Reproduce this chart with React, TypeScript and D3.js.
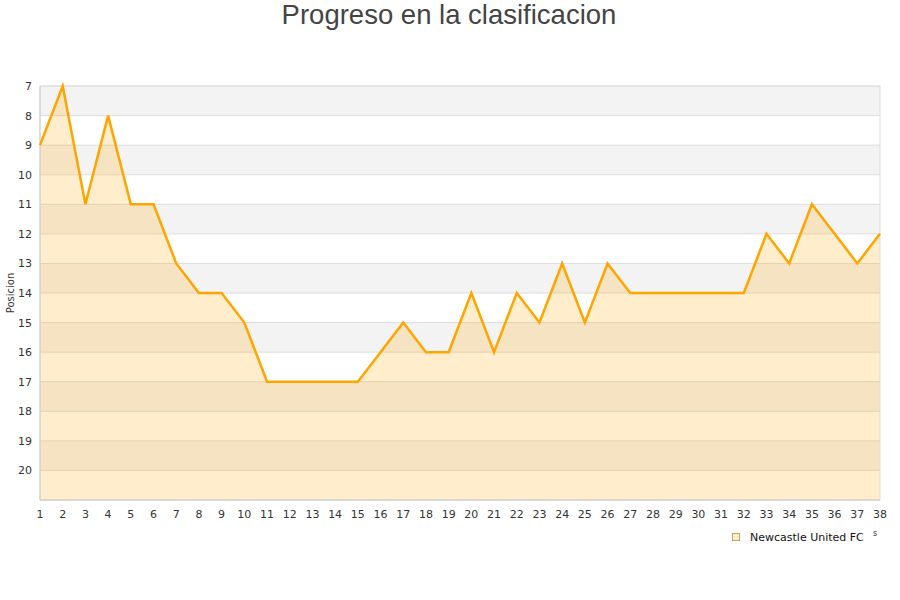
import React from "react";
import * as d3 from "d3";

const rounds = d3.range(1, 39);
const positions = [9, 7, 11, 8, 11, 11, 13, 14, 14, 15, 17, 17, 17, 17, 17, 16, 15, 16, 16, 14, 16, 14, 15, 13, 15, 13, 14, 14, 14, 14, 14, 14, 12, 13, 11, 12, 13, 12];
const yTicks = d3.range(7, 21);
const seriesName = "Newcastle United FC";
const title = "Progreso en la clasificacion";
const yTitle = "Posicion";

export default function App() {
  const W = 900, H = 600;
  const left = 40, right = 880, top = 86, bottom = 500;
  const x = d3.scaleLinear().domain([1, 38]).range([left, right]);
  const y = d3.scaleLinear().domain([7, 21]).range([top, bottom]);
  const data = rounds.map((r, i) => ({ r, p: positions[i] }));
  const line = d3.line<{ r: number; p: number }>().x(d => x(d.r)).y(d => y(d.p));
  const area = d3.area<{ r: number; p: number }>().x(d => x(d.r)).y0(y(21)).y1(d => y(d.p));
  const bands = d3.range(7, 21);
  return (
    <svg width={W} height={H} style={{ position: "absolute", left: 0, top: 0 }}>
      <rect width={W} height={H} fill="#fff" />
      <text x={449} y={24} textAnchor="middle" fontFamily="Liberation Sans, Arial, sans-serif" fontSize={27.5} fill="#444">{title}</text>
      {bands.map(b => (
        <rect key={b} x={left} y={y(b)} width={right - left} height={y(b + 1) - y(b)} fill={(b - 7) % 2 === 0 ? "#f3f3f3" : "#ffffff"} />
      ))}
      {yTicks.concat([21]).map(t => (
        <line key={"g" + t} x1={left} x2={right} y1={y(t)} y2={y(t)} stroke="#dddddd" strokeWidth={1} />
      ))}
      <path d={area(data) || ""} fill="#ffa500" fillOpacity={0.2} />
      <rect x={left} y={top} width={right - left} height={bottom - top} fill="none" stroke="#dddddd" strokeWidth={1} />
      <line x1={left} x2={left} y1={top} y2={bottom} stroke="#cccccc" />
      <line x1={left} x2={right} y1={bottom} y2={bottom} stroke="#cccccc" />
      <path d={line(data) || ""} fill="none" stroke="#ffa500" strokeWidth={2.5} strokeLinejoin="miter" />
      {yTicks.map(t => (
        <text key={"yt" + t} x={32} y={y(t) + 4} textAnchor="end" fontFamily="DejaVu Sans, sans-serif" fontSize={11} fill="#333">{t}</text>
      ))}
      {rounds.map(r => (
        <text key={"xt" + r} x={x(r)} y={518} textAnchor="middle" fontFamily="DejaVu Sans, sans-serif" fontSize={11} fill="#333">{r}</text>
      ))}
      <text transform={`translate(14,${293}) rotate(-90)`} textAnchor="middle" fontFamily="DejaVu Sans, sans-serif" fontSize={10} fill="#333">{yTitle}</text>
      <rect x={732.5} y={533.5} width={7} height={7} fill="#ffedcc" stroke="#c8a060" strokeWidth={1} />
      <text x={750} y={541} fontFamily="DejaVu Sans, sans-serif" fontSize={11} fill="#111">{seriesName}</text>
      <text x={873} y={536} fontFamily="DejaVu Sans, sans-serif" fontSize={8} fill="#333">s</text>
    </svg>
  );
}
